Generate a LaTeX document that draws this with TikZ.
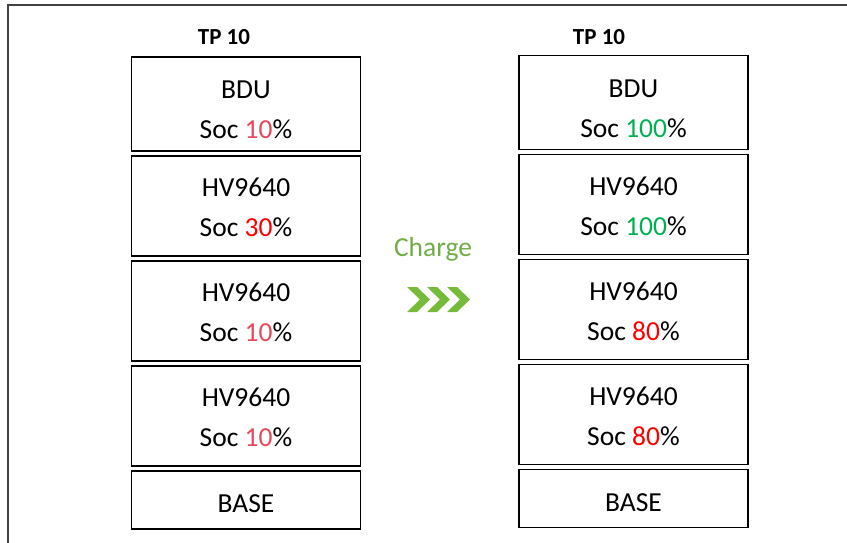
\documentclass[tikz,border=0pt]{standalone}
\usepackage{fontspec}
\setmainfont{Carlito}
\usetikzlibrary{positioning}

\definecolor{socred}{RGB}{255,0,0}
\definecolor{soclow}{RGB}{232,72,90}
\definecolor{socfull}{RGB}{0,176,80}
\definecolor{chargegreen}{RGB}{112,173,71}
\definecolor{chevgreen}{RGB}{118,186,58}

\newcommand{\bdustrut}{\rule{0pt}{30pt}}
\newcommand{\hvstrut}{\rule{0pt}{22pt}}
\newcommand{\basestrut}{\rule{0pt}{26pt}}

\begin{document}
\begin{tikzpicture}[x=1pt, y=-1pt, node distance=3.2pt,
  pack/.style = {draw, line width=1.8pt, minimum width=229pt, minimum height=100pt,
    inner sep=0pt, align=center, font=\fontsize{27.5}{40}\selectfont},
  top/.style = {pack, minimum height=94pt},
  base/.style = {pack, minimum height=58pt},
  tp/.style = {font=\fontsize{23}{26}\selectfont\bfseries}]
\useasboundingbox (0,0) rectangle (847,543);
\draw[line width=1.2pt, black!75] (8,560) -- (8,5) -- (870,5);

% before charging
\node[tp] (tpl) at (224,37) {TP 10};
\node[top] (l1) at (246,104) {\bdustrut BDU\\Soc \textcolor{soclow}{10}\%};
\node[pack] (l2) [below=of l1] {\hvstrut HV9640\\Soc \textcolor{socred}{30}\%};
\node[pack] (l3) [below=of l2] {\hvstrut HV9640\\Soc \textcolor{soclow}{10}\%};
\node[pack] (l4) [below=of l3] {\hvstrut HV9640\\Soc \textcolor{soclow}{10}\%};
\node[base] (l5) [below=of l4] {\basestrut BASE};

% after charging
\node[tp] (tpr) at (599,37) {TP 10};
\node[top] (r1) at (633.5,102.5) {\bdustrut BDU\\Soc \textcolor{socfull}{100}\%};
\node[pack] (r2) [below=of r1] {\hvstrut HV9640\\Soc \textcolor{socfull}{100}\%};
\node[pack] (r3) [below=of r2] {\hvstrut HV9640\\Soc \textcolor{socred}{80}\%};
\node[pack] (r4) [below=of r3] {\hvstrut HV9640\\Soc \textcolor{socred}{80}\%};
\node[base] (r5) [below=of r4] {\basestrut BASE};

\node[font=\fontsize{27.5}{30}\selectfont, text=chargegreen] (charge) at (433,249) {Charge};
\foreach \i in {0,1,2}
  \fill[chevgreen, shift={(407+\i*20,287)}] (0,0) -- (10,0) -- (23,12.5) -- (10,25)
    -- (0,25) -- (13,12.5) -- cycle;
\end{tikzpicture}
\end{document}
